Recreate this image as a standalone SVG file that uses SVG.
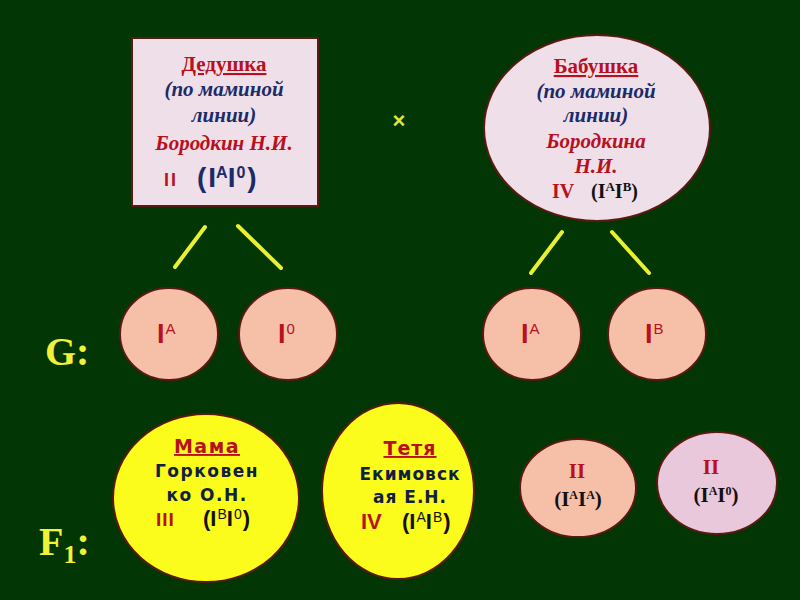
<svg xmlns="http://www.w3.org/2000/svg" width="800" height="600" viewBox="0 0 800 600">
<style>
.bd{stroke:#5a1a12;stroke-width:2}
.ln{stroke:#e8f030;stroke-width:4;stroke-linecap:round}
.serif{font-family:"Liberation Serif","DejaVu Serif",serif;font-weight:bold}
.sans{font-family:"Liberation Sans","DejaVu Sans",sans-serif;font-weight:bold}
.wide{font-family:"DejaVu Sans","Liberation Sans",sans-serif;font-weight:bold}
.red{fill:#b81020}
.blue{fill:#1c2a68}
.navy{fill:#102040}
.blk{fill:#111}
.lbl{fill:#f2f23a}
</style>
<rect width="800" height="600" fill="#023605"/>
<g id="connectors">
<line class="ln" x1="175" y1="267" x2="205" y2="227"/>
<line class="ln" x1="238" y1="226" x2="281" y2="268"/>
<line class="ln" x1="531" y1="273" x2="562" y2="232"/>
<line class="ln" x1="612" y1="232" x2="649" y2="273"/>
</g>
<text x="399" y="128" text-anchor="middle" class="sans" font-size="22" fill="#d8e840" font-weight="normal">×</text>
<g id="dedushka">
<rect class="bd" x="132" y="38" width="186" height="168" fill="#eedfe8"/>
<g class="serif" text-anchor="middle" font-size="21">
<text x="224" y="71" class="red" text-decoration="underline">Дедушка</text>
<text x="224" y="96" class="blue" font-style="italic">(по маминой</text>
<text x="224" y="122" class="blue" font-style="italic">линии)</text>
<text x="224" y="150" class="red" font-style="italic">Бородкин Н.И.</text>
</g>
<text x="164" y="186" class="sans red" font-size="18" letter-spacing="2">II</text>
<text x="197" y="187" class="sans blue" font-size="28" font-weight="normal">(<tspan font-weight="bold" dx="2">I</tspan><tspan font-size="16" dy="-9">A</tspan><tspan dy="9" font-weight="bold">I</tspan><tspan font-size="16" dy="-9" dx="1">0</tspan><tspan dy="9" dx="2">)</tspan></text>
</g>
<g id="babushka">
<ellipse class="bd" cx="597" cy="128" rx="113" ry="93" fill="#eedfe8"/>
<g class="serif" text-anchor="middle" font-size="21">
<text x="596" y="73" class="red" text-decoration="underline">Бабушка</text>
<text x="596" y="98" class="blue" font-style="italic">(по маминой</text>
<text x="596" y="122" class="blue" font-style="italic">линии)</text>
<text x="596" y="148" class="red" font-style="italic">Бородкина</text>
<text x="596" y="173" class="red" font-style="italic">Н.И.</text>
</g>
<text x="552" y="198" class="serif red" font-size="20">IV</text>
<text x="591" y="198" class="serif blk" font-size="20">(I<tspan font-size="13" dy="-7">A</tspan><tspan dy="7">I</tspan><tspan font-size="13" dy="-7">B</tspan><tspan dy="7">)</tspan></text>
</g>
<text x="45" y="365" class="serif lbl" font-size="40">G:</text>
<text x="39" y="555" class="serif lbl" font-size="40">F<tspan font-size="26" dy="8">1</tspan><tspan dy="-8">:</tspan></text>
<g id="gA1">
<ellipse class="bd" cx="169" cy="334" rx="49" ry="46" fill="#f6c0a8"/>
<text x="157" y="343" class="sans red" font-size="27">I<tspan font-size="15" font-weight="normal" dy="-9" dx="1">A</tspan></text>
</g>
<g id="g01">
<ellipse class="bd" cx="288" cy="334" rx="49" ry="46" fill="#f6c0a8"/>
<text x="278" y="343" class="sans red" font-size="27">I<tspan font-size="15" font-weight="normal" dy="-9" dx="1">0</tspan></text>
</g>
<g id="gA2">
<ellipse class="bd" cx="532" cy="334" rx="49" ry="46" fill="#f6c0a8"/>
<text x="521" y="343" class="sans red" font-size="27">I<tspan font-size="15" font-weight="normal" dy="-9" dx="1">A</tspan></text>
</g>
<g id="gB">
<ellipse class="bd" cx="657" cy="334" rx="49" ry="46" fill="#f6c0a8"/>
<text x="645" y="343" class="sans red" font-size="27">I<tspan font-size="15" font-weight="normal" dy="-9" dx="1">B</tspan></text>
</g>
<g id="mama">
<ellipse class="bd" cx="206" cy="498" rx="93" ry="84" fill="#fcfc1c"/>
<g class="wide" text-anchor="middle" font-size="17" letter-spacing="1.5">
<text x="207" y="453" class="red" text-decoration="underline" font-size="19">Мама</text>
<text x="207" y="477" class="navy">Горковен</text>
<text x="207" y="501" class="navy">ко О.Н.</text>
</g>
<text x="156" y="526" class="sans red" font-size="19" letter-spacing="1">III</text>
<text x="203" y="526" class="sans blk" font-size="22">(I<tspan font-size="14" font-weight="normal" dy="-7" dx="1">B</tspan><tspan dy="7">I</tspan><tspan font-size="14" font-weight="normal" dy="-7" dx="1">0</tspan><tspan dy="7" dx="1">)</tspan></text>
</g>
<g id="tetya">
<ellipse class="bd" cx="398" cy="491" rx="76" ry="88" fill="#fcfc1c"/>
<g class="wide" text-anchor="middle" font-size="17" letter-spacing="1">
<text x="410" y="455" class="red" text-decoration="underline" font-size="19">Тетя</text>
<text x="410" y="480" class="navy">Екимовск</text>
<text x="410" y="503" class="navy">ая Е.Н.</text>
</g>
<text x="361" y="529" class="sans red" font-size="22">IV</text>
<text x="402" y="529" class="sans blk" font-size="22">(I<tspan font-size="14" font-weight="normal" dy="-7" dx="1">A</tspan><tspan dy="7">I</tspan><tspan font-size="14" font-weight="normal" dy="-7" dx="1">B</tspan><tspan dy="7" dx="1">)</tspan></text>
</g>
<g id="f1AA">
<ellipse class="bd" cx="578" cy="488" rx="58" ry="49" fill="#f6c0a8"/>
<text x="577" y="478" text-anchor="middle" class="serif red" font-size="21">II</text>
<text x="578" y="506" text-anchor="middle" class="serif blk" font-size="21">(I<tspan font-size="12" dy="-7">A</tspan><tspan dy="7">I</tspan><tspan font-size="12" dy="-7">A</tspan><tspan dy="7">)</tspan></text>
</g>
<g id="f1A0">
<ellipse class="bd" cx="717" cy="483" rx="60" ry="51" fill="#eac8dc"/>
<text x="711" y="474" text-anchor="middle" class="serif red" font-size="21">II</text>
<text x="716" y="502" text-anchor="middle" class="serif blk" font-size="21">(I<tspan font-size="12" dy="-7">A</tspan><tspan dy="7">I</tspan><tspan font-size="12" dy="-7">0</tspan><tspan dy="7">)</tspan></text>
</g>
</svg>
